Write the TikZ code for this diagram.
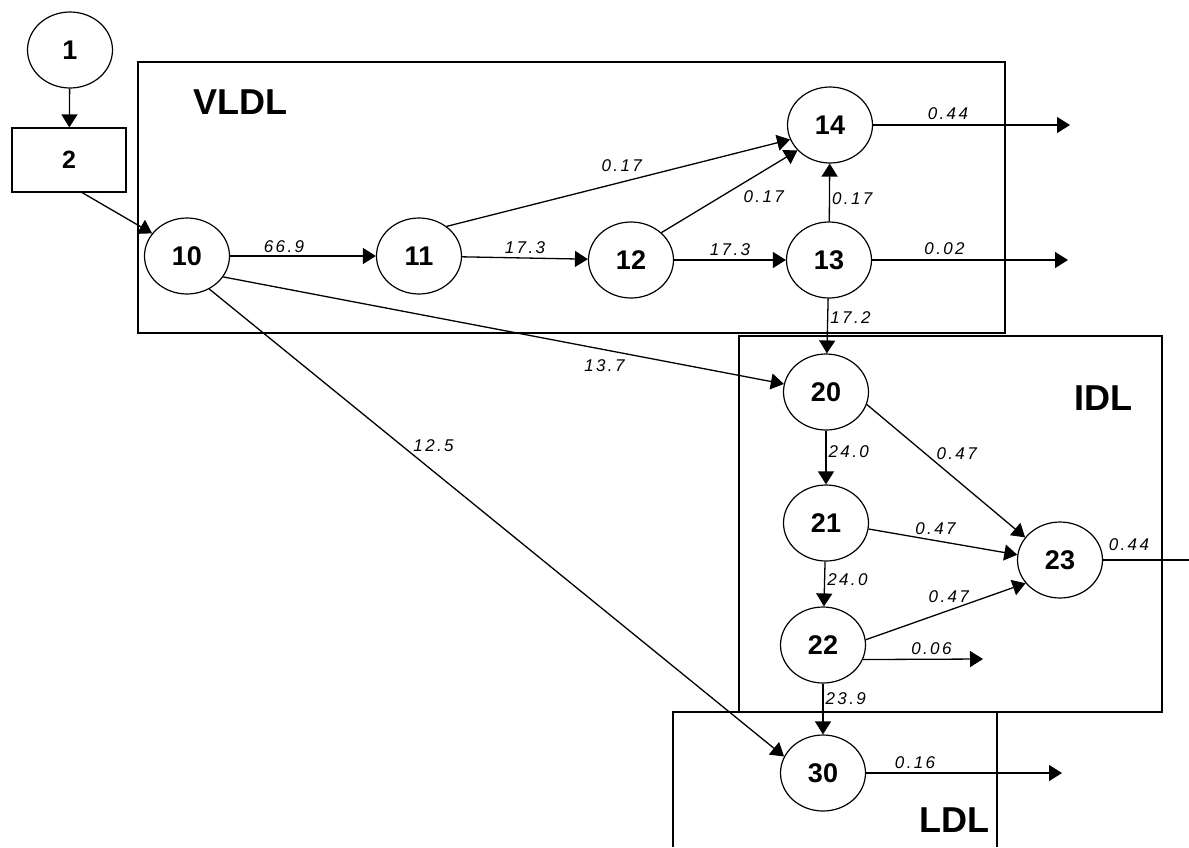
\documentclass[tikz,border=0pt]{standalone}
\usepackage{fontspec}
\setmainfont{Liberation Sans}
\newfontfamily\flowfont[LetterSpace=14]{Liberation Sans}
\usetikzlibrary{shapes.geometric,arrows.meta}

\begin{document}
\begin{tikzpicture}[x=1pt,y=-1pt,
    pool/.style={draw, ellipse, line width=1.2pt, minimum width=85pt, minimum height=76pt, inner sep=0pt, font=\fontsize{27}{27}\selectfont\bfseries},
    src/.style={draw, rectangle, line width=1.2pt, minimum width=114pt, minimum height=64pt, font=\fontsize{25}{25}\selectfont\bfseries},
    grp/.style={line width=1.5pt},
    grplab/.style={font=\fontsize{36}{36}\selectfont\bfseries},
    flow/.style={-{Triangle[length=13pt,width=16pt]}, line width=1.3pt},
    open/.style={line width=1.3pt},
    lab/.style={font=\fontsize{17}{17}\selectfont\flowfont\itshape, inner sep=1pt}]
      \useasboundingbox (0,0) rectangle (1189,847);

      \draw[grp] (138,62) rectangle (1005,333);
      \draw[grp] (739,336) rectangle (1162,712);
      \draw[grp] (673,847) -- (673,712) -- (997,712) -- (997,847);
      \node[grplab] (vldl) at (240,102) {VLDL};
      \node[grplab] (idl) at (1103,398) {IDL};
      \node[grplab] (ldl) at (954,820) {LDL};

      \node[pool] (n1) at (70,50) {1};
      \node[src] (n2) at (69,160) {2};
      \node[pool] (n10) at (187,256) {10};
      \node[pool] (n11) at (419,256) {11};
      \node[pool] (n12) at (631,260) {12};
      \node[pool] (n13) at (829,260) {13};
      \node[pool] (n14) at (830,125) {14};
      \node[pool] (n20) at (826,392) {20};
      \node[pool] (n21) at (826,523) {21};
      \node[pool] (n22) at (823,645) {22};
      \node[pool] (n23) at (1060,560) {23};
      \node[pool] (n30) at (823,773) {30};

      \coordinate (o14) at (1070,125);
      \coordinate (o13) at (1068,260);
      \coordinate (o22) at (983,659);
      \coordinate (o23) at (1189,560);
      \coordinate (o30) at (1062,773);

      \draw[flow] (n1) to (n2);
      \draw[flow] (n2.-68) to (n10.147);
      \draw[flow] (n10) to node[lab, above=2pt, pos=0.37] {66.9} (n11);
      \draw[flow] (n11) to node[lab, above=3pt, pos=0.5] {17.3} (n12);
      \draw[flow] (n12) to node[lab, above=3pt, pos=0.5] {17.3} (n13);
      \draw[flow] (n11.47) to node[lab, above=9pt, pos=0.51] {0.17} (n14.200);
      \draw[flow] (n12.42) to node[lab, below right=3pt, pos=0.57] {0.17} (n14.218);
      \draw[flow] (n13) to node[lab, right=1pt, pos=0.39] {0.17} (n14);
      \draw[flow] (n14) to node[lab, above=4pt, pos=0.38] {0.44} (o14);
      \draw[flow] (n13) to node[lab, above=4pt, pos=0.37] {0.02} (o13);
      \draw[flow] (n13) to node[lab, right=1pt, pos=0.34] {17.2} (n20);
      \draw[flow] (n10.330) to node[lab, below=8pt, pos=0.68] {13.7} (n20);
      \draw[flow] (n10.304) to node[lab, right=10pt, pos=0.335] {12.5} (n30.157);
      \draw[flow] (n20) to node[lab, right=1pt, pos=0.4] {24.0} (n21);
      \draw[flow] (n20.343) to node[lab, above right=0pt, pos=0.43] {0.47} (n23.147);
      \draw[flow] (n21.352) to node[lab, above=4pt, pos=0.45] {0.47} (n23.173);
      \draw[flow] (n21) to node[lab, right=1pt, pos=0.41] {24.0} (n22);
      \draw[flow] (n22.7) to node[lab, above=6pt, pos=0.52] {0.47} (n23.214);
      \draw[flow] (n22.340) to node[lab, above=3pt, pos=0.57] {0.06} (o22);
      \draw[flow] (n22) to node[lab, right=1pt, pos=0.3] {23.9} (n30);
      \draw[open] (n23) to node[lab, above=8pt, pos=0.3] {0.44} (o23);
      \draw[flow] (n30) to node[lab, above=3pt, pos=0.25] {0.16} (o30);
    \end{tikzpicture}
\end{document}
